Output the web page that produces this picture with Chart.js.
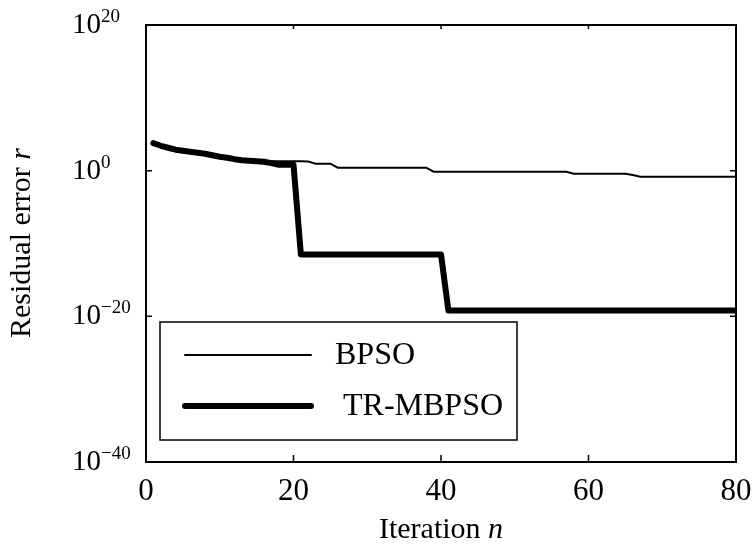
<!DOCTYPE html>
<html>
<head>
<meta charset="utf-8">
<script src="https://cdn.jsdelivr.net/npm/chart.js@4"></script>
<style>
  html, body { margin: 0; padding: 0; background: #fff; }
  canvas { display: block; }
</style>
</head>
<body>
<canvas id="residualChart" width="752" height="557"></canvas>
<script>
// iteration numbers 1..80
const iterations = Array.from({ length: 80 }, (_, i) => i + 1);

// residual error
const bpsoValues = [
    5.9e3, 2.6e3, 1.4e3, 760, 550, 400, 295, 214, 132, 83, 60, 38, 27.5, 23.4, 20,
    20, 20, 20, 20, 20, 20, 17.8,
    9.1, 9.1, 9.1,
    2.6, 2.6, 2.6, 2.6, 2.6, 2.6, 2.6, 2.6, 2.6, 2.6, 2.6, 2.6, 2.6,
    0.72, 0.72, 0.72, 0.72, 0.72, 0.72, 0.72, 0.72, 0.72, 0.72, 0.72, 0.72, 0.72, 0.72, 0.72, 0.72, 0.72, 0.72, 0.72,
    0.39, 0.39, 0.39, 0.39, 0.39, 0.39, 0.39, 0.39,
    0.25,
    0.15, 0.15, 0.15, 0.15, 0.15, 0.15, 0.15, 0.15, 0.15, 0.15, 0.15, 0.15, 0.15, 0.15
];

const trmbpsoValues = [
    5.9e3, 2.6e3, 1.4e3, 760, 550, 400, 295, 214, 132, 83, 60, 38, 27.5, 23.4, 20,
    17, 10.7, 6.6, 6.6, 6.6,
    3.2e-12, 3.2e-12, 3.2e-12, 3.2e-12, 3.2e-12, 3.2e-12, 3.2e-12, 3.2e-12, 3.2e-12, 3.2e-12,
    3.2e-12, 3.2e-12, 3.2e-12, 3.2e-12, 3.2e-12, 3.2e-12, 3.2e-12, 3.2e-12, 3.2e-12, 3.2e-12,
    6.3e-20, 6.3e-20, 6.3e-20, 6.3e-20, 6.3e-20, 6.3e-20, 6.3e-20, 6.3e-20, 6.3e-20, 6.3e-20,
    6.3e-20, 6.3e-20, 6.3e-20, 6.3e-20, 6.3e-20, 6.3e-20, 6.3e-20, 6.3e-20, 6.3e-20, 6.3e-20,
    6.3e-20, 6.3e-20, 6.3e-20, 6.3e-20, 6.3e-20, 6.3e-20, 6.3e-20, 6.3e-20, 6.3e-20, 6.3e-20,
    6.3e-20, 6.3e-20, 6.3e-20, 6.3e-20, 6.3e-20, 6.3e-20, 6.3e-20, 6.3e-20, 6.3e-20, 6.3e-20
];

const xTicks = [0, 20, 40, 60, 80];
const xTickLabels = ["0", "20", "40", "60", "80"];
const yTicks = [1e-40, 1e-20, 1e0, 1e20];
const yTickExponents = ["\u221240", "\u221220", "0", "20"];

const FONT = "'Liberation Serif', 'Times New Roman', serif";

function toPoints(values) {
    return values.map((v, i) => ({ x: iterations[i], y: v }));
}

// frame, inward ticks, tick labels, titles and legend
const decorPlugin = {
    id: "decor",
    afterDraw(chart) {
        const ctx = chart.ctx;
        const a = chart.chartArea;
        const xs = chart.scales.x;
        const ys = chart.scales.y;
        ctx.save();
        ctx.strokeStyle = "#000";
        ctx.fillStyle = "#000";

        // frame
        ctx.lineWidth = 2;
        ctx.strokeRect(a.left, a.top, a.right - a.left, a.bottom - a.top);

        // inward ticks
        ctx.lineWidth = 1.5;
        ctx.beginPath();
        xTicks.slice(1, -1).forEach(v => {
            const px = xs.getPixelForValue(v);
            ctx.moveTo(px, a.bottom); ctx.lineTo(px, a.bottom - 7);
            ctx.moveTo(px, a.top); ctx.lineTo(px, a.top + 4);
        });
        yTicks.slice(1, -1).forEach(v => {
            const py = ys.getPixelForValue(v);
            ctx.moveTo(a.left, py); ctx.lineTo(a.left + 6, py);
            ctx.moveTo(a.right, py); ctx.lineTo(a.right - 6, py);
        });
        ctx.stroke();

        // x tick labels
        ctx.font = "31px " + FONT;
        ctx.textAlign = "center";
        ctx.textBaseline = "alphabetic";
        xTicks.forEach((v, i) => {
            ctx.fillText(xTickLabels[i], xs.getPixelForValue(v), a.bottom + 38);
        });

        // y tick labels: 10 with superscript exponent
        ctx.textAlign = "left";
        yTicks.forEach((v, i) => {
            const py = ys.getPixelForValue(v);
            ctx.font = "29px " + FONT;
            ctx.fillText("10", 72, py + 8);
            const w = ctx.measureText("10").width;
            ctx.font = "19px " + FONT;
            ctx.fillText(yTickExponents[i], 72 + w, py - 3);
        });

        // x axis title
        ctx.font = "30px " + FONT;
        const t1 = "Iteration ";
        const w1 = ctx.measureText(t1).width;
        ctx.font = "italic 30px " + FONT;
        const w2 = ctx.measureText("n").width;
        const cx = (a.left + a.right) / 2;
        let sx = cx - (w1 + w2) / 2;
        ctx.font = "30px " + FONT;
        ctx.fillText(t1, sx, 538);
        ctx.font = "italic 30px " + FONT;
        ctx.fillText("n", sx + w1, 538);

        // y axis title
        ctx.save();
        ctx.translate(30, 243);
        ctx.rotate(-Math.PI / 2);
        ctx.font = "30px " + FONT;
        const y1 = "Residual error ";
        const yw1 = ctx.measureText(y1).width;
        ctx.font = "italic 30px " + FONT;
        const yw2 = ctx.measureText("r").width;
        sx = -(yw1 + yw2) / 2;
        ctx.font = "30px " + FONT;
        ctx.fillText(y1, sx, 0);
        ctx.font = "italic 30px " + FONT;
        ctx.fillText("r", sx + yw1, 0);
        ctx.restore();

        // legend
        ctx.fillStyle = "#fff";
        ctx.fillRect(160, 322, 357, 118);
        ctx.fillStyle = "#000";
        ctx.lineWidth = 1.5;
        ctx.strokeRect(160, 322, 357, 118);
        const rows = [
            { y: 355, textX: 335 },
            { y: 406, textX: 343 }
        ];
        chart.data.datasets.forEach((ds, i) => {
            ctx.lineWidth = ds.borderWidth;
            ctx.lineCap = "round";
            ctx.beginPath();
            ctx.moveTo(185, rows[i].y);
            ctx.lineTo(311, rows[i].y);
            ctx.stroke();
            ctx.font = "32px " + FONT;
            ctx.textBaseline = "middle";
            ctx.fillText(ds.label, rows[i].textX, rows[i].y + 1);
        });
        ctx.restore();
    }
};

new Chart(document.getElementById("residualChart").getContext("2d"), {
    type: "line",
    data: {
        datasets: [
            {
                label: "BPSO",
                data: toPoints(bpsoValues),
                borderColor: "#000",
                borderWidth: 2,
                pointRadius: 0,
                tension: 0,
                fill: false
            },
            {
                label: "TR-MBPSO",
                data: toPoints(trmbpsoValues),
                borderColor: "#000",
                borderWidth: 6,
                pointRadius: 0,
                tension: 0,
                fill: false,
                borderJoinStyle: "round",
                borderCapStyle: "round"
            }
        ]
    },
    options: {
        responsive: false,
        animation: false,
        devicePixelRatio: 1,
        layout: { padding: { top: 25, right: 16, left: 0, bottom: 0 } },
        plugins: {
            legend: { display: false },
            tooltip: { enabled: false }
        },
        scales: {
            x: {
                type: "linear",
                min: 0,
                max: 80,
                afterBuildTicks: scale => { scale.ticks = xTicks.map(v => ({ value: v })); },
                ticks: { display: false },
                grid: { display: false, drawTicks: false },
                border: { display: false },
                afterFit: scale => { scale.height = 95; }
            },
            y: {
                type: "logarithmic",
                min: 1e-40,
                max: 1e20,
                afterBuildTicks: scale => { scale.ticks = yTicks.map(v => ({ value: v })); },
                ticks: { display: false },
                grid: { display: false, drawTicks: false },
                border: { display: false },
                afterFit: scale => { scale.width = 146; }
            }
        }
    },
    plugins: [decorPlugin]
});
</script>
</body>
</html>
